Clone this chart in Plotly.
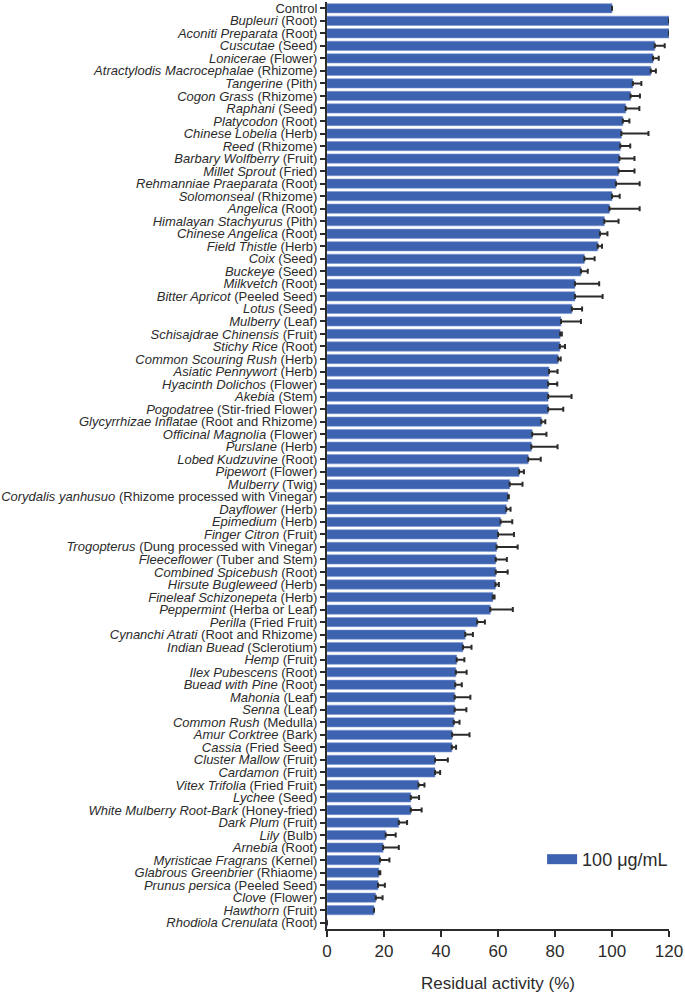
import plotly.graph_objects as go

names = ["Control", "Bupleuri", "Aconiti Preparata", "Cuscutae", "Lonicerae",
         "Atractylodis Macrocephalae", "Tangerine", "Cogon Grass", "Raphani", "Platycodon",
         "Chinese Lobelia", "Reed", "Barbary Wolfberry", "Millet Sprout", "Rehmanniae Praeparata",
         "Solomonseal", "Angelica", "Himalayan Stachyurus", "Chinese Angelica", "Field Thistle",
         "Coix", "Buckeye", "Milkvetch", "Bitter Apricot", "Lotus",
         "Mulberry", "Schisajdrae Chinensis", "Stichy Rice", "Common Scouring Rush", "Asiatic Pennywort",
         "Hyacinth Dolichos", "Akebia", "Pogodatree", "Glycyrrhizae Inflatae", "Officinal Magnolia",
         "Purslane", "Lobed Kudzuvine", "Pipewort", "Mulberry", "Corydalis yanhusuo",
         "Dayflower", "Epimedium", "Finger Citron", "Trogopterus", "Fleeceflower",
         "Combined Spicebush", "Hirsute Bugleweed", "Fineleaf Schizonepeta", "Peppermint", "Perilla",
         "Cynanchi Atrati", "Indian Buead", "Hemp", "Ilex Pubescens", "Buead with Pine",
         "Mahonia", "Senna", "Common Rush", "Amur Corktree", "Cassia",
         "Cluster Mallow", "Cardamon", "Vitex Trifolia", "Lychee", "White Mulberry Root-Bark",
         "Dark Plum", "Lily", "Arnebia", "Myristicae Fragrans", "Glabrous Greenbrier",
         "Prunus persica", "Clove", "Hawthorn", "Rhodiola Crenulata"]

parts = ["", "Root", "Root", "Seed", "Flower",
         "Rhizome", "Pith", "Rhizome", "Seed", "Root",
         "Herb", "Rhizome", "Fruit", "Fried", "Root",
         "Rhizome", "Root", "Pith", "Root", "Herb",
         "Seed", "Seed", "Root", "Peeled Seed", "Seed",
         "Leaf", "Fruit", "Root", "Herb", "Herb",
         "Flower", "Stem", "Stir-fried Flower", "Root and Rhizome", "Flower",
         "Herb", "Root", "Flower", "Twig", "Rhizome processed with Vinegar",
         "Herb", "Herb", "Fruit", "Dung processed with Vinegar", "Tuber and Stem",
         "Root", "Herb", "Herb", "Herba or Leaf", "Fried Fruit",
         "Root and Rhizome", "Sclerotium", "Fruit", "Root", "Root",
         "Leaf", "Leaf", "Medulla", "Bark", "Fried Seed",
         "Fruit", "Fruit", "Fried Fruit", "Seed", "Honey-fried",
         "Fruit", "Bulb", "Root", "Kernel", "Rhiaome",
         "Peeled Seed", "Flower", "Fruit", "Root"]

values = [100, 120, 120, 115.0, 114.4,
          113.6, 107.3, 106.5, 104.8, 103.8,
          103.3, 102.9, 102.6, 102.3, 101.4,
          100.0, 99.1, 97.3, 95.8, 95.0,
          90.3, 89.1, 87.0, 87.0, 85.9,
          82.1, 81.8, 81.7, 81.1, 77.9,
          77.6, 77.6, 77.6, 75.2, 72.0,
          71.7, 70.6, 67.4, 64.1, 63.5,
          62.9, 60.9, 60.0, 59.5, 59.2,
          59.2, 59.1, 58.2, 57.3, 52.7,
          48.5, 47.7, 45.5, 45.2, 45.0,
          44.8, 44.8, 44.5, 43.9, 43.8,
          37.9, 37.9, 32.1, 29.4, 29.4,
          25.2, 20.6, 19.7, 18.6, 18.2,
          17.9, 17.1, 16.5, 0]

errors = [0, 0, 0, 3.5, 2.0,
          1.8, 3.0, 3.3, 4.8, 2.3,
          9.5, 3.5, 5.3, 5.6, 8.3,
          2.7, 10.6, 5.0, 2.6, 1.5,
          3.6, 2.4, 8.5, 9.7, 3.6,
          7.0, 0.6, 1.8, 0.9, 3.0,
          3.2, 8.2, 5.3, 1.4, 5.0,
          9.2, 4.4, 1.7, 4.5, 0.3,
          1.5, 4.1, 5.6, 7.4, 3.9,
          4.2, 1.2, 0.6, 7.9, 2.7,
          2.7, 3.0, 2.7, 3.8, 2.3,
          5.5, 4.1, 2.0, 6.1, 1.5,
          4.5, 1.8, 2.1, 2.9, 3.8,
          2.9, 3.5, 5.5, 3.3, 0.5,
          2.4, 2.4, 0, 0]

xticks = [0, 20, 40, 60, 80, 100, 120]
series_name = "100 μg/mL"

BLUE = "#3c62b0"
DARK = "#2b2b2b"

labels = []
for n, p in zip(names, parts):
    if p:
        labels.append(f"<i>{n}</i> ({p})")
    else:
        labels.append(n)
cats = list(range(len(labels)))

fig = go.Figure()
fig.add_trace(go.Bar(
    x=values, y=cats, orientation="h",
    marker=dict(color=BLUE, line=dict(color="#7d97d4", width=0.6)),
    width=0.74,
    error_x=dict(type="data", symmetric=False, array=errors,
                 arrayminus=[0] * len(errors), color=DARK, thickness=2, width=2.5),
    showlegend=False,
))
fig.add_trace(go.Scatter(
    x=[None], y=[None], mode="lines", name=series_name,
    line=dict(color=BLUE, width=12), showlegend=True,
))

fig.update_layout(
    width=685, height=993,
    margin=dict(l=318, r=16, t=1, b=64),
    plot_bgcolor="white", paper_bgcolor="white",
    font=dict(family="Liberation Sans, Arial, sans-serif", color=DARK),
    showlegend=True,
    legend=dict(x=1.012, xanchor="right", y=0.075, yanchor="middle",
                font=dict(size=18, color=DARK), bgcolor="rgba(0,0,0,0)"),
)
fig.update_xaxes(
    range=[0, 120], tickvals=xticks, ticktext=[str(t) for t in xticks],
    showline=True, linecolor=DARK, linewidth=2,
    ticks="outside", ticklen=6, tickwidth=2, tickcolor=DARK,
    showgrid=False, zeroline=False,
    tickfont=dict(size=17, color=DARK),
    title=dict(text="Residual activity (%)", font=dict(size=17, color=DARK), standoff=18),
)
fig.update_yaxes(
    tickmode="array", tickvals=cats, ticktext=labels,
    range=[len(cats) - 0.5, -0.5],
    showline=True, linecolor=DARK, linewidth=2,
    ticks="outside", ticklen=5, tickwidth=2, tickcolor=DARK,
    showgrid=False, zeroline=False,
    ticklabeloverflow="allow",
    tickfont=dict(size=13, color=DARK),
)

fig.write_html("out.html",
               config={"displayModeBar": False},
               post_script="document.body.style.margin='0';document.body.style.overflow='hidden';")
